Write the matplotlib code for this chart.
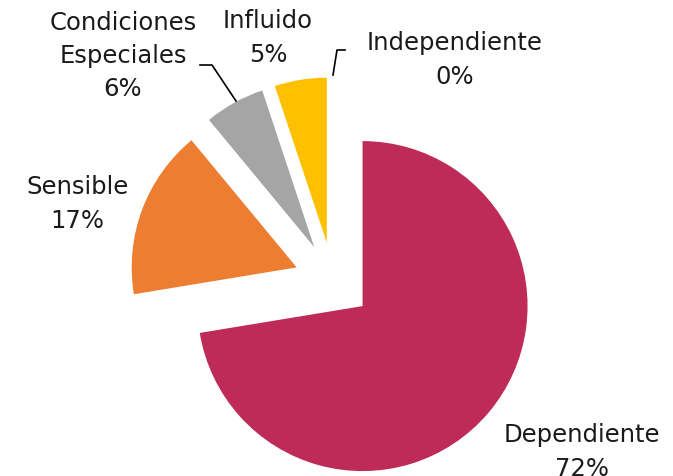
import numpy as np
import matplotlib.pyplot as plt

# data (shares, labels as printed)
labels = ['Dependiente', 'Sensible', 'Condiciones\nEspeciales', 'Influido', 'Independiente']
values = [72.4, 16.6, 5.9, 5.1, 0.0]
pct = ['72%', '17%', '6%', '5%', '0%']
colors = ['#BE2B59', '#ED7D31', '#A5A5A5', '#FFC000', '#4472C4']

# pixel geometry of the reference (center and radius of the pie)
W, H = 673, 476
cx, cy, R = 333, 281, 165

def to_data(px, py):
    return (px - cx) / R, (cy - py) / R

fig = plt.figure(figsize=(W / 100, H / 100), dpi=100)
ax = fig.add_axes([0, 0, 1, 1])
ax.pie(values, colors=colors, startangle=90, counterclock=False,
       explode=[0.235] * len(values), radius=1,
       wedgeprops=dict(linewidth=0))
ax.set_xlim(-cx / R, (W - cx) / R)
ax.set_ylim(-(H - cy) / R, cy / R)
ax.set_aspect('auto')
ax.axis('off')

# label positions (pixel centers)
pos = [(582, 452), (77, 204), (123, 56), (268, 38), (455, 60)]
fs = 17.5
for lab, p, (px, py) in zip(labels, pct, pos):
    x, y = to_data(px, py)
    ax.text(x, y, lab + '\n' + p, ha='center', va='center', fontsize=fs,
            color='#1a1a1a', linespacing=1.48, family='DejaVu Sans')

# leader lines
for pts in ([(200, 65), (212, 65), (236, 101)], [(345, 50), (337, 50), (333, 75)]):
    xs, ys = zip(*[to_data(a, b) for a, b in pts])
    ax.plot(xs, ys, color='black', lw=1.2)

fig.savefig('out.png', dpi=100)
